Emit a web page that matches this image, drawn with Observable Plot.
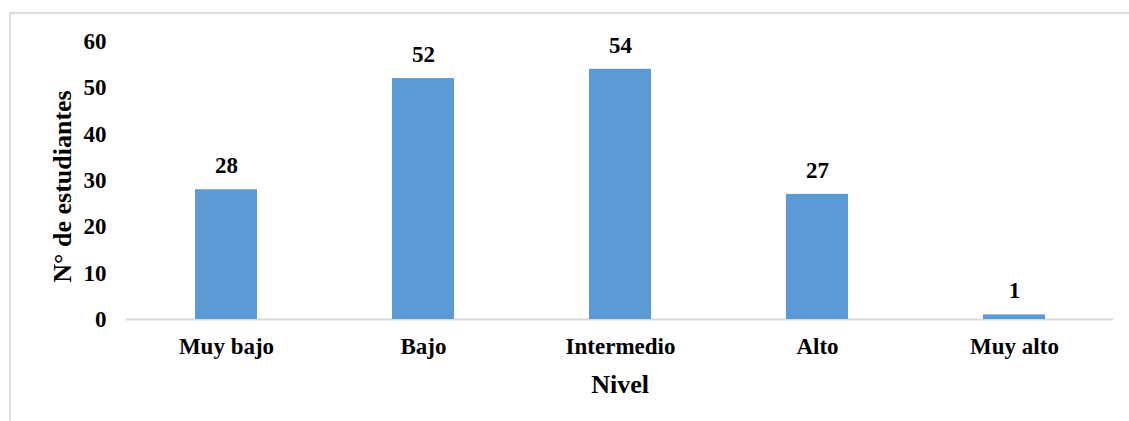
<!DOCTYPE html>
<html>
<head>
<meta charset="utf-8">
<script src="https://cdn.jsdelivr.net/npm/d3@7"></script>
<script src="https://cdn.jsdelivr.net/npm/@observablehq/plot@0.6"></script>
<style>
  html, body { margin: 0; padding: 0; background: #fff; }
  #wrap { position: relative; width: 1129px; height: 421px; overflow: hidden; }
  #frame { position: absolute; left: 9px; top: 12px; width: 1200px; height: 500px;
           border-left: 2px solid #dedede; border-top: 2px solid #dedede; }
  #chart { position: absolute; left: 0; top: 0; }
</style>
</head>
<body>
<div id="wrap"><div id="frame"></div><div id="chart"></div></div>
<script>
const categories = ["Muy bajo", "Bajo", "Intermedio", "Alto", "Muy alto"];
const values = [28, 52, 54, 27, 1];
const yTicks = [0, 10, 20, 30, 40, 50, 60];
const xTitle = "Nivel";
const yTitle = "N° de estudiantes";

const data = categories.map((c, i) => ({nivel: c, n: values[i]}));

const chart = Plot.plot({
  width: 1129,
  height: 421,
  marginLeft: 126,
  marginRight: 16,
  marginTop: 41,
  marginBottom: 102,
  x: {domain: categories, paddingInner: 0.686, paddingOuter: 0.343, label: null},
  y: {domain: [0, 60], label: null},
  style: {
    fontFamily: "'Liberation Serif', 'Times New Roman', serif",
    fontWeight: "bold",
    fontSize: "23px",
    color: "#000",
    background: "transparent"
  },
  marks: [
    Plot.ruleY([0], {stroke: "#d9d9d9", strokeWidth: 2}),
    Plot.barY(data, {x: "nivel", y: "n", fill: "#5B9BD5"}),
    Plot.text(data, {x: "nivel", y: "n", text: d => String(d.n), dy: -24, lineAnchor: "middle", fill: "#000"}),
    Plot.axisY({ticks: yTicks, tickSize: 0, tickPadding: 20, label: null, tickFormat: d => String(d)}),
    Plot.axisX({tickSize: 0, tickPadding: 18, label: null}),
    Plot.text([xTitle], {frameAnchor: "bottom", dy: 65, fontSize: 26, lineAnchor: "middle", textAnchor: "middle", fill: "#000"}),
    Plot.text([yTitle], {frameAnchor: "left", rotate: -90, dx: -64, dy: 6, fontSize: 26, lineAnchor: "middle", textAnchor: "middle", fill: "#000"})
  ]
});
document.getElementById("chart").append(chart);
</script>
</body>
</html>
